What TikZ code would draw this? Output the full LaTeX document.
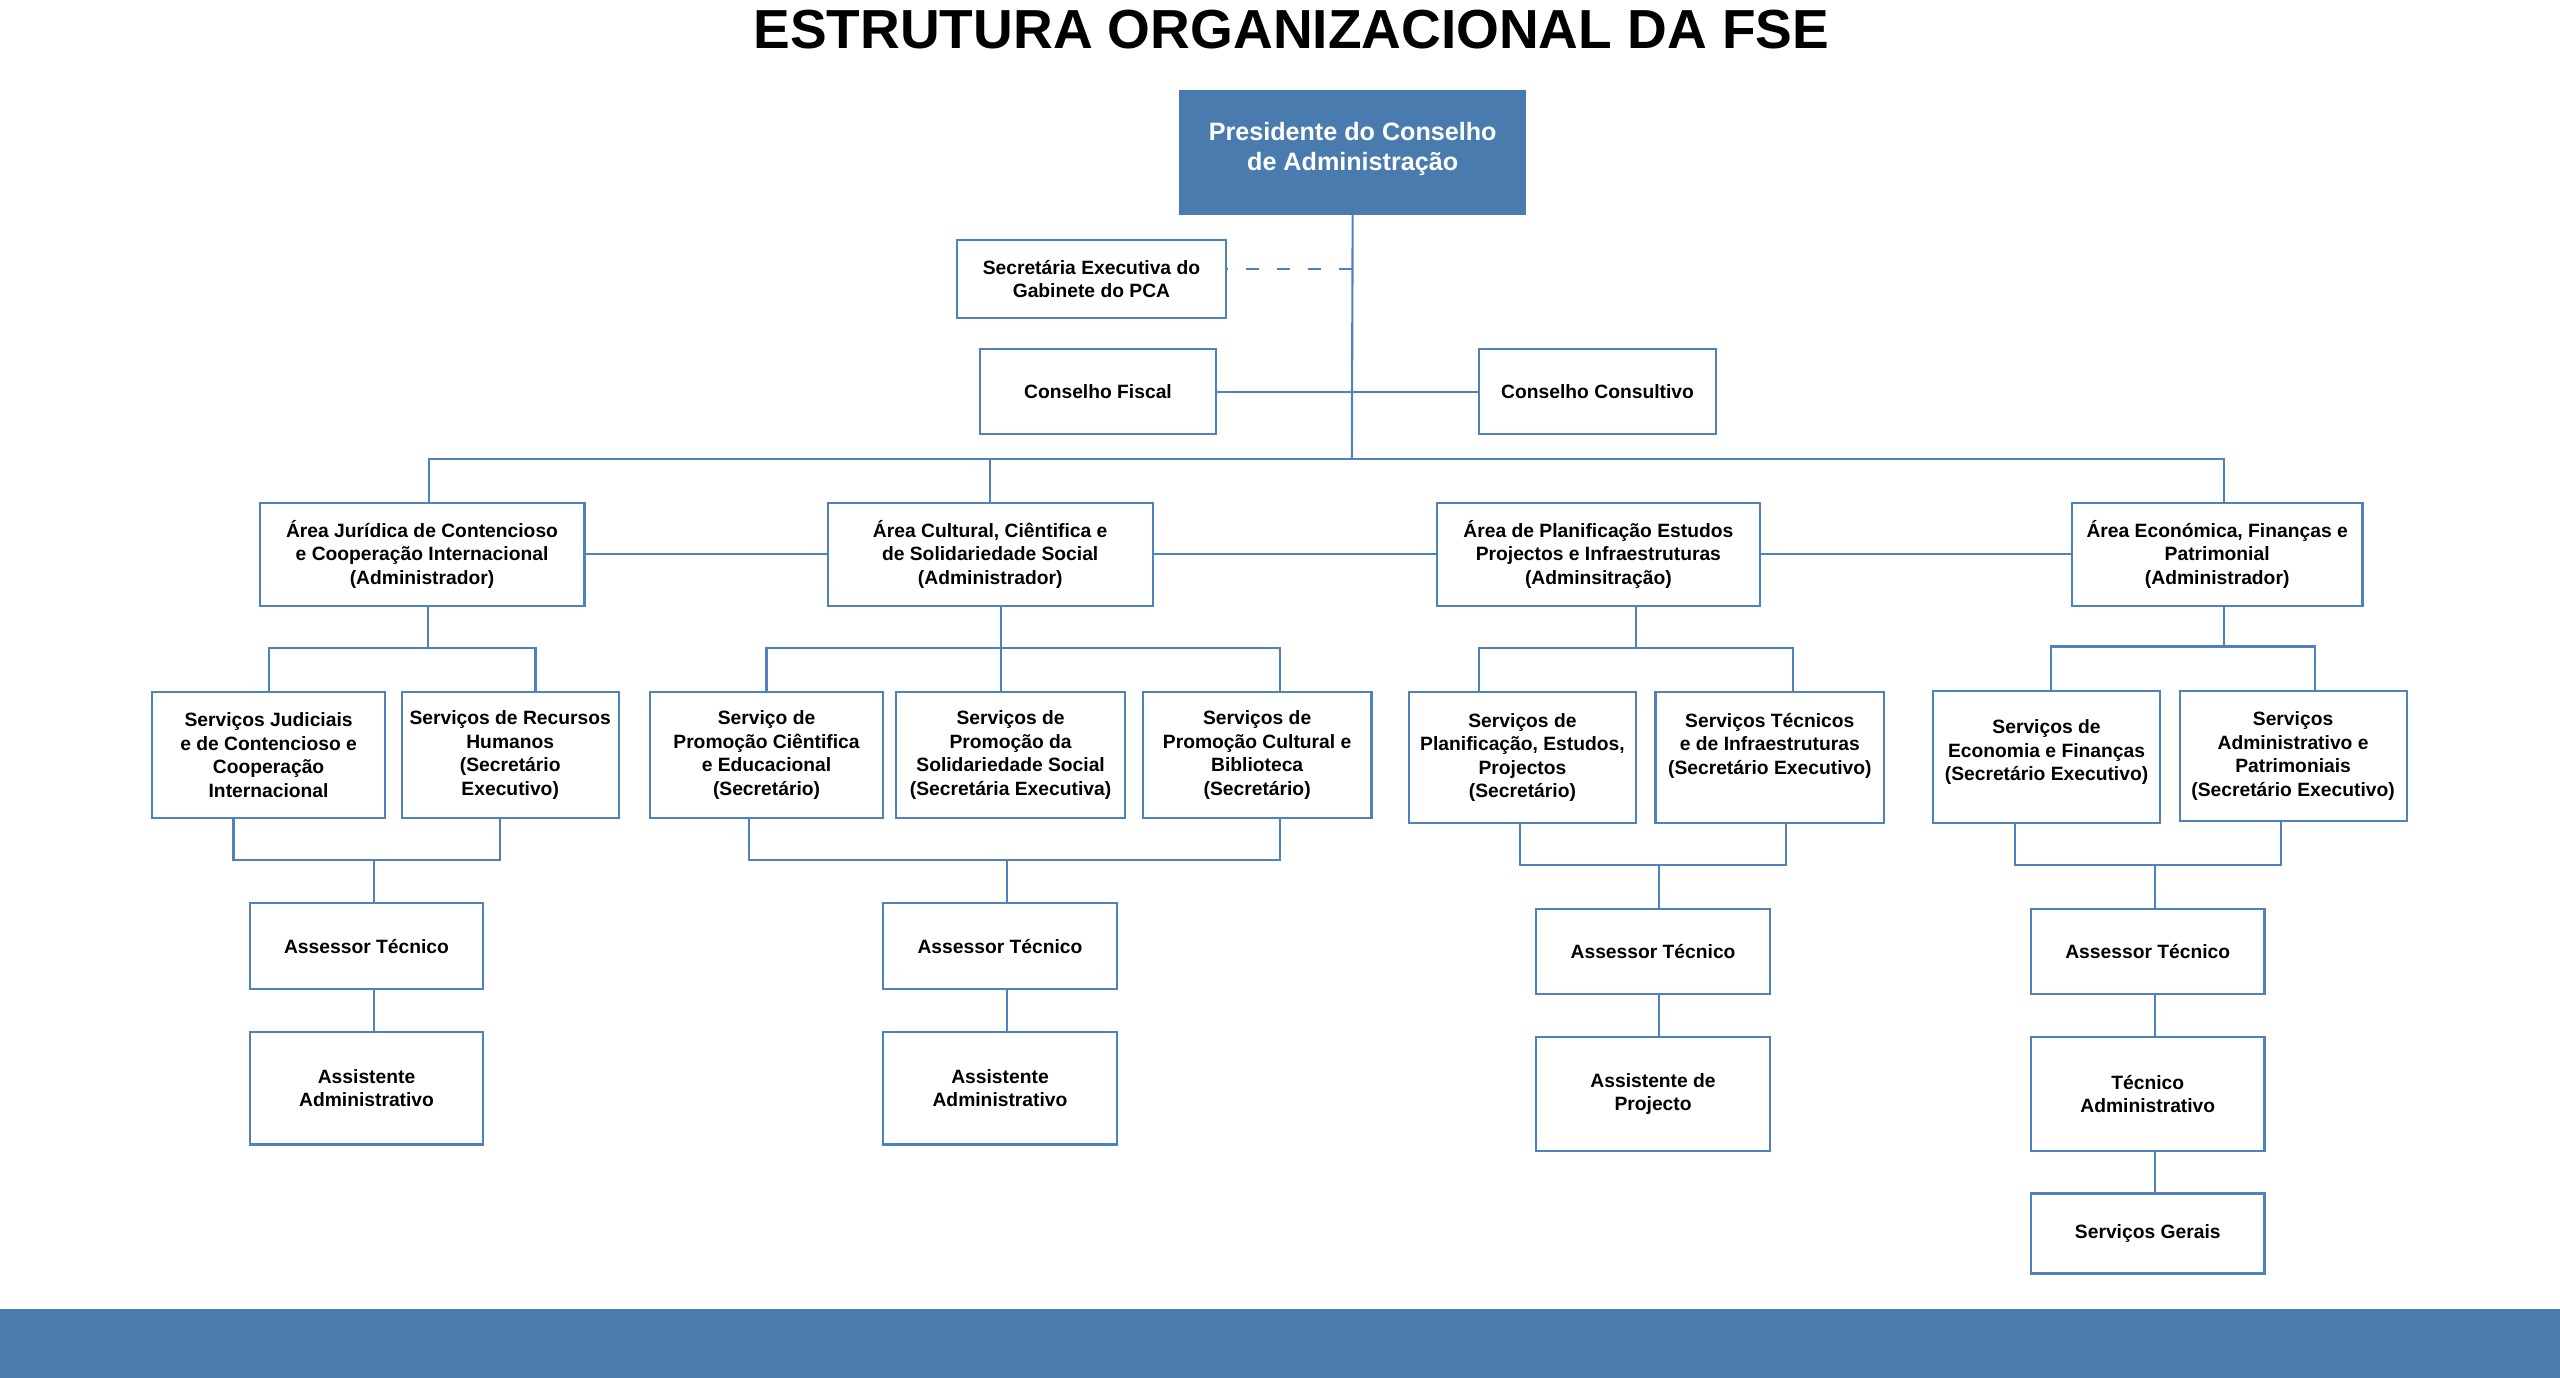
\documentclass[tikz,border=0pt]{standalone}
\usepackage{fontspec}
\setmainfont{Liberation Sans}
\usepackage{tikz}
\definecolor{azul}{RGB}{74,123,175}
\definecolor{linha}{RGB}{79,129,189}

\begin{document}
\begin{tikzpicture}[x=1pt,y=-1pt]
\tikzstyle{caixa}=[draw=linha,line width=1.3pt,rectangle,align=center,inner sep=0pt,font=\fontsize{11.8}{14.4}\selectfont\bfseries];
\tikzstyle{liga}=[draw=linha,line width=1.3pt];
\useasboundingbox (0,0) rectangle (1568,844);
\fill[azul] (0,802) rectangle (1568,844);
\node (titulo) at (791,18) {\fontsize{33.7}{40}\selectfont\bfseries ESTRUTURA ORGANIZACIONAL DA FSE};

\node[caixa,fill=azul,draw=azul,text=white,minimum width=211,minimum height=75,text depth=8pt,font=\fontsize{15.4}{18.5}\selectfont\bfseries] (pca) at (828.5,93.5) {Presidente do Conselho\\de Administração};
\node[caixa,minimum width=165,minimum height=48] (sec) at (668.5,171) {Secretária Executiva do\\Gabinete do PCA};
\node[caixa,minimum width=145,minimum height=52] (fis) at (672.5,240) {Conselho Fiscal};
\node[caixa,minimum width=145,minimum height=52] (con) at (978.5,240) {Conselho Consultivo};

\node[caixa,minimum width=199,minimum height=63] (jur) at (258.5,339.5) {Área Jurídica de Contencioso\\e Cooperação Internacional\\(Administrador)};
\node[caixa,minimum width=199,minimum height=63] (cul) at (606.5,339.5) {Área Cultural, Ciêntifica e\\de Solidariedade Social\\(Administrador)};
\node[caixa,minimum width=198,minimum height=63] (pla) at (979,339.5) {Área de Planificação Estudos\\Projectos e Infraestruturas\\(Adminsitração)};
\node[caixa,minimum width=178,minimum height=63] (eco) at (1358,339.5) {Área Económica, Finanças e\\Patrimonial\\(Administrador)};

\node[caixa,minimum width=143,minimum height=77] (jud) at (164.5,462.5) {Serviços Judiciais\\e de Contencioso e\\Cooperação\\Internacional};
\node[caixa,minimum width=133,minimum height=77] (rh) at (312.5,462.5) {Serviços de Recursos\\Humanos\\(Secretário\\Executivo)};
\node[caixa,minimum width=143,minimum height=77] (pcie) at (469.5,462.5) {Serviço de\\Promoção Ciêntifica\\e Educacional\\(Secretário)};
\node[caixa,minimum width=140,minimum height=77] (psol) at (619,462.5) {Serviços de\\Promoção da\\Solidariedade Social\\(Secretária Executiva)};
\node[caixa,minimum width=140,minimum height=77] (pcul) at (770,462.5) {Serviços de\\Promoção Cultural e\\Biblioteca\\(Secretário)};
\node[caixa,minimum width=139,minimum height=80] (pest) at (932.5,464) {Serviços de\\Planificação, Estudos,\\Projectos\\(Secretário)};
\node[caixa,minimum width=140,minimum height=80,text depth=17pt] (tec) at (1084,464) {Serviços Técnicos\\e de Infraestruturas\\(Secretário Executivo)};
\node[caixa,minimum width=139,minimum height=81,text depth=8pt] (efin) at (1253.5,463.5) {Serviços de\\Economia e Finanças\\(Secretário Executivo)};
\node[caixa,minimum width=139,minimum height=80] (adm) at (1404.5,463) {Serviços\\Administrativo e\\Patrimoniais\\(Secretário Executivo)};

\node[caixa,minimum width=143,minimum height=53] (at1) at (224.5,579.5) {Assessor Técnico};
\node[caixa,minimum width=143,minimum height=53] (at2) at (612.5,579.5) {Assessor Técnico};
\node[caixa,minimum width=143,minimum height=52] (at3) at (1012.5,583) {Assessor Técnico};
\node[caixa,minimum width=143,minimum height=52] (at4) at (1315.5,583) {Assessor Técnico};

\node[caixa,minimum width=143,minimum height=69] (as1) at (224.5,666.5) {Assistente\\Administrativo};
\node[caixa,minimum width=143,minimum height=69] (as2) at (612.5,666.5) {Assistente\\Administrativo};
\node[caixa,minimum width=143,minimum height=70] (as3) at (1012.5,670) {Assistente de\\Projecto};
\node[caixa,minimum width=143,minimum height=70] (tadm) at (1315.5,670) {Técnico\\Administrativo};
\node[caixa,minimum width=143,minimum height=49] (sg) at (1315.5,755.5) {Serviços Gerais};

\coordinate (bus) at (828,281);
\draw[liga] (pca.south) -- (bus);
\draw[liga] ([xshift=4.5pt]jur.north) |- (bus) -| ([xshift=4pt]eco.north);
\draw[liga] (cul.north) -- (cul.north |- bus);
\draw[liga,dash pattern=on 8pt off 11pt] ([yshift=6pt]sec.east -| bus) -- ([yshift=6pt]sec.east);
\draw[liga] (fis.east) -- (con.west);
\draw[liga] (jur.east) -- (cul.west) (cul.east) -- (pla.west) (pla.east) -- (eco.west);

\coordinate (jb) at (262,397);
\draw[liga] ([xshift=3.5pt]jur.south) -- (jb);
\draw[liga] (jud.north) |- (jb) -| ([xshift=15.5pt]rh.north);
\coordinate (cb) at (613,397);
\draw[liga] ([xshift=6.5pt]cul.south) -- ([xshift=-6pt]psol.north);
\draw[liga] (pcie.north) |- (cb) -| ([xshift=14pt]pcul.north);
\coordinate (pb) at (1002,397);
\draw[liga] ([xshift=23pt]pla.south) -- (pb);
\draw[liga] ([xshift=-26.5pt]pest.north) |- (pb) -| ([xshift=14pt]tec.north);
\coordinate (eb) at (1362,396);
\draw[liga] ([xshift=4pt]eco.south) -- (eb);
\draw[liga] ([xshift=2.5pt]efin.north) |- (eb) -| ([xshift=13.5pt]adm.north);

\coordinate (jbb) at (229,527);
\draw[liga] ([xshift=-21.5pt]jud.south) |- (jbb) -| ([xshift=-6.5pt]rh.south);
\draw[liga] (jbb) -- ([xshift=4.5pt]at1.north);
\draw[liga] ([xshift=4.5pt]at1.south) -- ([xshift=4.5pt]as1.north);
\coordinate (cbb) at (617,527);
\draw[liga] ([xshift=-10.5pt]pcie.south) |- (cbb) -| ([xshift=14pt]pcul.south);
\draw[liga] (cbb) -- ([xshift=4.5pt]at2.north);
\draw[liga] ([xshift=4.5pt]at2.south) -- ([xshift=4.5pt]as2.north);
\coordinate (pbb) at (1016,530);
\draw[liga] ([xshift=-1.5pt]pest.south) |- (pbb) -| ([xshift=10pt]tec.south);
\draw[liga] (pbb) -- ([xshift=3.5pt]at3.north);
\draw[liga] ([xshift=3.5pt]at3.south) -- ([xshift=3.5pt]as3.north);
\coordinate (ebb) at (1320,530);
\draw[liga] ([xshift=-19.5pt]efin.south) |- (ebb) -| ([xshift=-7.5pt]adm.south);
\draw[liga] (ebb) -- ([xshift=4.5pt]at4.north);
\draw[liga] ([xshift=4.5pt]at4.south) -- ([xshift=4.5pt]tadm.north);
\draw[liga] ([xshift=4.5pt]tadm.south) -- ([xshift=4.5pt]sg.north);
\end{tikzpicture}
\end{document}
